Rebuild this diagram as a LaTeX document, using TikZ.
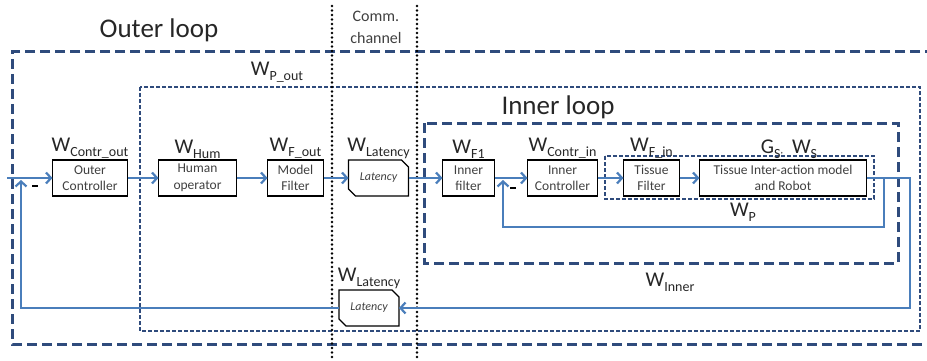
\documentclass[tikz,border=0pt]{standalone}
\usepackage{fontspec}
\setmainfont{Carlito}
\usetikzlibrary{positioning, arrows.meta}

\definecolor{sigblue}{HTML}{4A7EBB}
\definecolor{loopblue}{HTML}{2F4B7C}
\definecolor{txtgray}{HTML}{404040}

\newcommand{\wl}[2]{{\fontsize{21}{21}\selectfont #1}\raisebox{-5pt}{\fontsize{14}{14}\selectfont #2}}
\newcommand{\latframe}[1]{\draw[line width=1.3pt] (#1.north west) -- ([xshift=-7pt]#1.north east) -- ([yshift=-7pt]#1.north east) -- (#1.south east) -- ([xshift=7pt]#1.south west) -- ([yshift=7pt]#1.south west) -- cycle;}

\begin{document}
\begin{tikzpicture}[x=1pt, y=-1pt,
	block/.style={draw, line width=1.3pt, minimum height=36pt, inner sep=1pt, outer sep=0pt, align=center, text=txtgray, font=\fontsize{13.5}{16.5}\selectfont},
	latbox/.style={block, draw=none, font=\fontsize{12}{14}\selectfont\itshape},
	wlabel/.style={inner sep=1pt, text=black!85},
	sig/.style={draw=sigblue, line width=2.2pt},
	>={Straight Barb[length=5pt, width=11pt]},
	outerbox/.style={draw=loopblue, line width=3pt, dash pattern=on 10pt off 5pt},
	innerbox/.style={draw=loopblue, line width=1.4pt, dash pattern=on 4pt off 2pt},
	chan/.style={line width=2.8pt, dash pattern=on 0pt off 4.5pt, line cap=round},
	minus/.style={fill=black, inner sep=0pt, minimum width=6pt, minimum height=2.8pt},
	title/.style={font=\fontsize{27}{27}\selectfont, text=black!85}]
	\useasboundingbox (0,0) rectangle (927,361);

	\draw[outerbox] (935,52) -- (12,52) -- (12,344) -- (935,344);
	\draw[innerbox] (140,87) rectangle (920,331);
	\draw[outerbox] (424,123) rectangle (898,263);
	\draw[innerbox] (605,156) rectangle (874,199);
	\draw[chan] (332,6) -- (332,361);
	\draw[chan] (417,6) -- (417,361);

	\node[title] (outt) at (159,30) {Outer loop};
	\node[title] (innt) at (558,107) {Inner loop};
	\node[align=center, text=txtgray, font=\fontsize{16}{22}\selectfont] (comm) at (376,27) {Comm.\\channel};

	\node[block, minimum width=75pt] (oc) at (90,178) {Outer\\Controller};
	\node[block, minimum width=78pt, right=31pt of oc] (hum) {Human\\operator};
	\node[block, minimum width=56pt, right=31pt of hum] (mf) {Model\\Filter};
	\node[latbox, minimum width=60pt, right=25pt of mf] (lat) {Latency};
	\node[block, minimum width=52pt, right=34pt of lat] (inf) {Inner\\filter};
	\node[block, minimum width=70pt, right=33pt of inf] (ic) {Inner\\Controller};
	\node[block, minimum width=56pt, right=26pt of ic] (tf) {Tissue\\Filter};
	\node[block, minimum width=167pt, right=20pt of tf] (tr) {Tissue Inter-action model\\and Robot};
	\node[latbox, minimum width=60pt] (latb) at (369,308) {Latency};
	\latframe{lat}
	\latframe{latb}

	\node[wlabel, above=0pt of oc] (woc) {\wl{W}{Contr\_out}};
	\node[wlabel, above=0pt of hum] (whum) {\wl{W}{Hum}};
	\node[wlabel, above=0pt of mf] (wmf) {\wl{W}{F\_out}};
	\node[wlabel, above=0pt of lat] (wlat) {\wl{W}{Latency}};
	\node[wlabel, above=0pt of inf] (winf) {\wl{W}{F1}};
	\node[wlabel, above=0pt of ic] (wic) {\wl{W}{Contr\_in}};
	\node[wlabel, above=0pt of tf] (wtf) {\wl{W}{F\_in}};
	\node[wlabel, above=0pt of tr, xshift=6pt] (wtr) {\wl{G}{S},\hspace{9pt}\wl{W}{S}};
	\node[wlabel, above=0pt of latb] (wlatb) {\wl{W}{Latency}};
	\node[wlabel] (wp) at (743,212) {\wl{W}{P}};
	\node[wlabel] (winner) at (670,282) {\wl{W}{Inner}};
	\node[wlabel] (wpout) at (277,72) {\wl{W}{P\_out}};
	\node[minus] (m1) at (35,186) {};
	\node[minus] (m2) at (513,188) {};

	\coordinate (in) at (7,178);
	\coordinate (sum) at (21,178);
	\coordinate (sumin) at (503,178);
	\coordinate (br) at (884,178);
	\coordinate (brd) at (884,227);
	\coordinate (out) at (910,178);

	\draw[sig, ->] (in) -- (oc);
	\draw[sig, ->]
		(oc) edge (hum)
		(hum) edge (mf)
		(mf) edge (lat)
		(lat) edge (inf)
		(inf) edge (ic)
		(ic) edge (tf)
		(tf) edge (tr);
	\draw[sig, ->] (tr.east) -- (out) |- (latb.east);
	\draw[sig, ->, shorten >=2pt] (latb.west) -| (sum);
	\draw[sig, ->, shorten >=2pt] (br) -- (brd) -| (sumin);
\end{tikzpicture}
\end{document}
